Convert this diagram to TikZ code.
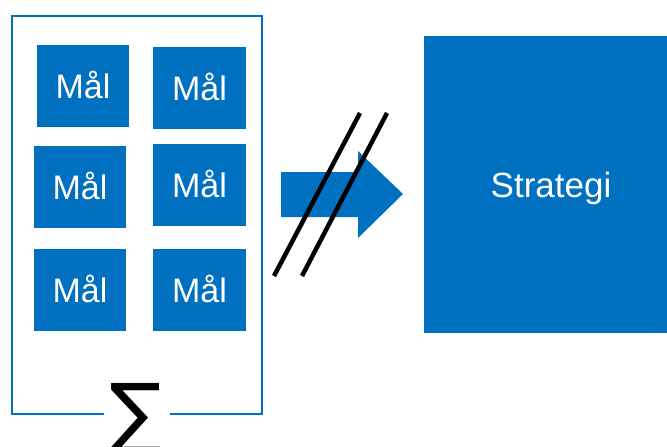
\documentclass[tikz,border=0pt]{standalone}
\usepackage{fontspec}
\setmainfont{Liberation Sans}
\newfontfamily\sumfont{DejaVu Sans}
\definecolor{office}{HTML}{0070C0}
\tikzset{
  goalbox/.style={fill=office, draw=none, minimum width=92pt, minimum height=82pt,
    inner sep=0pt, text=white, font=\fontsize{34}{40}\selectfont,
    text height=24.3pt, text depth=0pt},
  bigbox/.style={fill=office, draw=none, minimum width=254pt, minimum height=297pt,
    inner sep=0pt, text=white, font=\fontsize{35}{42}\selectfont,
    text height=25pt, text depth=0pt},
  frameline/.style={draw=office, line width=2pt},
  slash/.style={draw=black, line width=4.5pt}
}
\begin{document}
\begin{tikzpicture}[x=1pt, y=-1pt]
  \useasboundingbox (0,0) rectangle (667,447);

  % frame around the goals, open at the bottom for the sum sign
  \draw[frameline] (104,414) -- (12,414) -- (12,16) -- (262,16) -- (262,414) -- (170,414);

  % the six goals
  \node[goalbox] (g1) at (83,86) {Mål};
  \node[goalbox, minimum width=93pt] (g2) at (199.5,88) {Mål};
  \node[goalbox] (g3) at (80,187) {Mål};
  \node[goalbox, minimum width=93pt] (g4) at (199.5,185) {Mål};
  \node[goalbox] (g5) at (80,290) {Mål};
  \node[goalbox, minimum width=93pt] (g6) at (199.5,290) {Mål};

  % sum sign
  \node[anchor=north, inner sep=0pt, font=\fontsize{78}{90}\sumfont] (sum) at (135.5,383) {∑};

  % block arrow
  \fill[office] (281,172) -- (358,172) -- (358,151) -- (403,194) -- (358,238)
    -- (358,217) -- (281,217) -- cycle;

  % crossing strokes
  \draw[slash] (274,276) -- (360,113);
  \draw[slash] (302,276) -- (387,113);

  % strategy
  \node[bigbox] (strategy) at (551,184.5) {Strategi};
\end{tikzpicture}
\end{document}
